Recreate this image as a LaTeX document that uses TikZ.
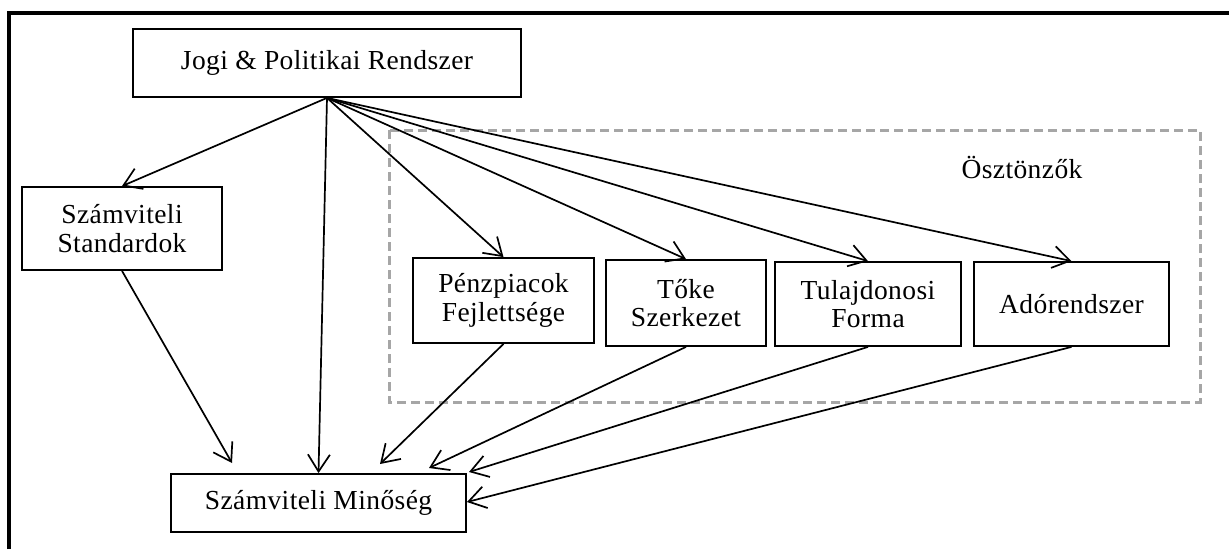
\documentclass[tikz,border=0pt]{standalone}
\usepackage{fontspec}
\setmainfont{Liberation Serif}
\usetikzlibrary{arrows.meta}
\tikzset{
  txt/.style={font=\fontsize{27.5}{28.5}\selectfont\addfontfeature{LetterSpace=1.5}},
  box/.style={draw=black, line width=1.8pt, rectangle, inner sep=0pt, align=center, txt},
  conn/.style={line width=1.7pt, -{Straight Barb[length=17pt,width=22pt,line width=1.7pt]}},
  frame/.style={line width=3.5pt},
  group/.style={draw=black!35, line width=3pt, dash pattern=on 9pt off 5pt}
}
\begin{document}
\begin{tikzpicture}[x=1pt,y=-1pt]
\useasboundingbox (0,0) rectangle (1229,549);
\draw[frame] (9,549) -- (9,13) -- (1229,13);
\draw[group] (389,130) rectangle (1200,402);
\node[txt] (osz) at (1022,167) {Ösztönzők};
\node[box, minimum width=388pt, minimum height=68pt] (jogi) at (327,63) {Jogi \& Politikai Rendszer};
\node[box, minimum width=200pt, minimum height=83pt] (std) at (122,228.5) {Számviteli\\Standardok};
\node[box, minimum width=181pt, minimum height=85pt] (penz) at (503.5,300.5) {Pénzpiacok\\Fejlettsége};
\node[box, minimum width=160pt, minimum height=86pt] (toke) at (686,303) {Tőke\\Szerkezet};
\node[box, minimum width=186pt, minimum height=84pt] (tul) at (868,304) {Tulajdonosi\\Forma};
\node[box, minimum width=195pt, minimum height=84pt] (ado) at (1071.5,304) {Adórendszer};
\node[box, minimum width=295pt, minimum height=58pt] (min) at (318.5,503) {Számviteli Minőség};
\coordinate (t1) at (232,463);
\coordinate (t2) at (380,464);
\coordinate (t3) at (429,468);
\coordinate (t4) at (469,472);
\coordinate (t5) at (467,502);
\draw[conn] (jogi.south) -- (std.north);
\draw[conn] (jogi.south) -- (min.north);
\draw[conn] (jogi.south) -- (penz.north);
\draw[conn] (jogi.south) -- (toke.north);
\draw[conn] (jogi.south) -- (tul.north);
\draw[conn] (jogi.south) -- (ado.north);
\draw[conn] (std.south) -- (t1);
\draw[conn] (penz.south) -- (t2);
\draw[conn] (toke.south) -- (t3);
\draw[conn] (tul.south) -- (t4);
\draw[conn] (ado.south) -- (t5);
\end{tikzpicture}
\end{document}
